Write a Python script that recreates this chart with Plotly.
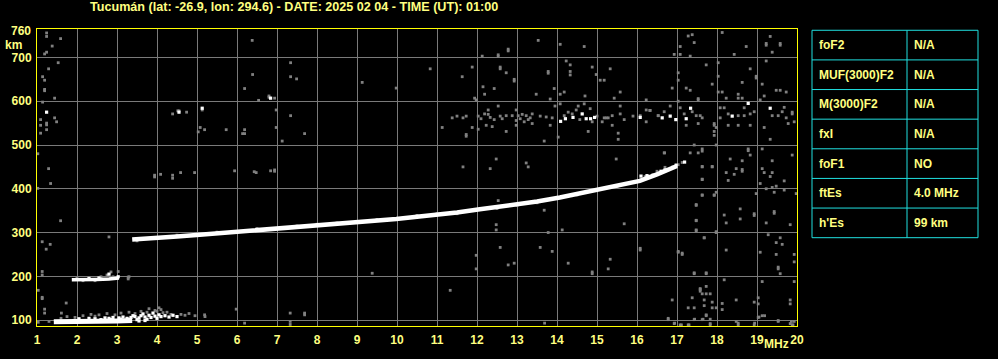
import plotly.graph_objects as go

# ---------------- data (frequency MHz, virtual height km) ----------------
title_text = "Tucumán (lat: -26.9, lon: 294.6) - DATE: 2025 02 04 - TIME (UT): 01:00"

x_ticks = list(range(1, 21))
y_ticks = [100, 200, 300, 400, 500, 600, 700]

# F-layer trace
f_trace_freq = [3.38, 3.6, 4.07, 4.5, 5.07, 5.5, 6.07, 6.5, 7.07, 7.5, 8.07, 8.5, 9.07, 9.5,
                9.98, 10.5, 11.07, 11.5, 12.07, 12.5, 13.07, 13.5, 14.07, 14.5, 15.07, 15.5,
                16.07, 16.5, 16.82, 17.0]
f_trace_km = [284, 285, 287, 291, 295, 298, 303, 306, 309.5, 312, 316, 319, 323, 327,
              331, 336, 341, 346, 353, 358, 364, 371, 380, 388, 398, 407,
              418, 433, 446, 452]

# sporadic E traces
es_low_freq = [1.42, 1.8, 2.2, 2.6, 3.0, 3.38]
es_low_km = [96, 96, 97, 97, 98, 99]
es_high_freq = [1.87, 2.2, 2.5, 2.8, 3.05]
es_high_km = [192, 192, 193, 194, 196]

# strong (white) echo points
echo_points = [
    (1.24, 575), (4.55, 575), (5.13, 584), (6.84, 607), (2.8, 205), (3.03, 199),
    (2.3, 195), (2.55, 196),
    (2.05, 103), (2.3, 104), (2.45, 103), (2.7, 105), (2.8, 104), (2.9, 106), (3.05, 105),
    (3.15, 107), (3.25, 104), (3.35, 106), (3.45, 108), (3.55, 105), (3.6, 110), (3.7, 107),
    (3.8, 111), (3.85, 106), (3.95, 109), (4.05, 112), (4.1, 108), (4.2, 110), (4.3, 107),
    (4.4, 111), (4.5, 108), (3.65, 114), (3.9, 116), (4.0, 104), (3.5, 101), (3.75, 102),
    (2.6, 101), (2.85, 101), (3.1, 102), (3.3, 102), (3.55, 98), (3.7, 99), (3.4, 110),
    (14.09, 554), (14.21, 560), (14.40, 563), (14.63, 571), (14.73, 560), (14.84, 560),
    (14.94, 563), (16.08, 563), (16.63, 562), (16.83, 566), (16.97, 558), (17.23, 560),
    (17.34, 584), (18.78, 595), (19.33, 584), (18.38, 566),
    (16.1, 429), (16.25, 430), (16.4, 431), (16.98, 454), (17.19, 461), (16.6, 440),
    (16.7, 443), (16.3, 428), (16.9, 449),
]

# weak (grey) echo / noise points
noise_points = [
    # left column
    (1.24, 756), (1.24, 748), (1.59, 743), (1.38, 726), (1.24, 712), (1.19, 708), (1.53, 688),
    (1.29, 674), (1.14, 656), (1.19, 648), (1.19, 627), (1.19, 624), (1.44, 607), (1.14, 598),
    (1.09, 558), (1.44, 562), (1.24, 550), (1.24, 546), (1.49, 553), (1.09, 545), (1.24, 535),
    (1.09, 527), (1.02, 480), (1.29, 446), (1.34, 412), (1.02, 401), (1.59, 327), (1.13, 279),
    (1.23, 262), (1.33, 273), (1.03, 168), (1.13, 149), (1.13, 152), (1.19, 125), (1.19, 116),
    (1.73, 139), (1.61, 116), (1.03, 95), (1.13, 211), (1.13, 203),
    # upper left / middle
    (6.38, 739), (6.39, 661), (7.34, 688), (7.34, 656), (7.49, 651), (6.19, 629), (6.54, 602),
    (6.80, 609), (6.80, 612), (6.94, 607), (9.13, 643), (6.98, 580), (7.34, 567), (6.98, 540),
    (7.69, 526), (7.13, 509), (4.55, 578), (4.39, 571), (4.74, 575), (5.08, 540), (5.19, 535),
    (5.03, 530), (5.73, 535), (6.19, 535), (6.14, 526), (6.19, 526), (3.94, 431), (3.94, 427),
    (4.09, 433), (4.39, 431), (4.39, 424), (4.59, 437), (4.94, 437), (5.94, 441), (6.43, 439),
    (6.48, 437), (6.84, 441), (6.94, 443), (6.94, 440), (5.13, 580), (4.52, 578),
    # upper middle band
    (9.98, 630), (10.83, 674), (11.13, 540), (11.38, 562), (11.63, 656), (11.65, 562),
    (11.73, 566), (11.73, 524), (11.73, 520), (11.88, 678), (11.88, 540), (11.94, 607),
    (11.98, 603), (12.03, 566), (12.03, 536), (12.13, 703), (12.15, 633), (12.19, 616),
    (12.19, 571), (12.23, 545), (12.28, 580), (12.28, 570), (12.38, 542), (12.43, 629),
    (12.43, 558), (12.53, 706), (12.53, 702), (12.53, 589), (12.58, 678), (12.58, 674),
    (12.58, 566), (12.73, 665), (12.73, 567), (12.73, 531), (12.78, 719), (12.78, 715),
    (12.88, 567), (12.93, 650), (12.93, 646), (12.98, 580), (12.98, 556), (12.98, 545),
    (13.03, 567), (13.08, 560), (13.13, 570), (13.18, 553), (13.23, 567), (13.28, 558),
    (13.33, 562), (13.38, 571), (13.38, 549), (13.48, 616), (13.53, 739), (13.68, 509),
    (13.73, 564), (13.78, 668), (13.78, 664), (13.83, 605), (13.83, 545), (13.88, 562),
    (13.93, 629), (13.95, 589), (14.03, 518), (14.08, 730), (14.08, 616), (14.08, 594),
    (14.18, 621), (14.18, 567), (14.23, 692), (14.33, 683), (14.33, 668), (14.33, 660),
    (14.38, 571), (14.48, 580), (14.53, 589), (14.57, 558), (14.68, 725), (14.68, 594),
    (14.70, 612), (14.78, 531), (14.83, 583), (14.88, 678), (14.88, 553), (14.98, 661),
    (15.08, 648), (15.13, 553), (15.18, 648), (15.18, 562), (15.23, 562), (15.28, 562),
    (15.33, 674), (15.38, 567), (15.38, 545), (15.43, 607), (15.53, 527), (15.53, 513),
    (15.58, 621), (15.58, 589), (15.58, 571), (15.68, 558), (16.08, 567), (16.23, 603),
    (16.23, 580), (16.23, 553), (16.33, 579), (16.53, 567), (12.33, 563), (12.63, 560),
    (13.58, 566), (14.28, 575), (15.0, 566), (15.9, 566), (11.5, 566), (12.1, 560),
    # right strip
    (17.38, 752), (17.28, 749), (17.43, 734), (17.08, 725), (16.93, 707), (17.08, 707),
    (17.33, 703), (18.13, 757), (18.43, 707), (18.73, 725), (19.23, 732), (19.58, 732),
    (19.23, 728), (19.58, 728), (19.33, 748), (19.38, 712), (19.23, 692), (17.73, 683),
    (18.03, 688), (18.83, 674), (17.03, 665), (17.03, 648), (18.03, 657), (17.88, 639),
    (18.63, 643), (18.98, 657), (18.98, 653), (19.13, 639), (19.58, 625), (16.88, 630),
    (17.23, 630), (17.33, 625), (18.03, 621), (18.13, 621), (18.23, 607), (18.53, 616),
    (18.53, 607), (18.63, 607), (19.18, 612), (19.48, 625), (19.73, 621), (19.08, 603),
    (17.53, 603), (17.53, 606), (17.03, 600), (16.32, 579), (16.53, 567), (16.68, 576),
    (16.83, 589), (17.08, 585), (17.18, 571), (17.38, 576), (17.48, 567), (17.58, 567),
    (17.63, 562), (17.53, 549), (17.23, 545), (17.93, 545), (17.93, 549), (18.08, 585),
    (18.18, 585), (18.08, 562), (18.28, 571), (18.28, 545), (18.53, 545), (18.68, 585),
    (18.83, 571), (18.83, 545), (18.93, 576), (18.68, 567), (18.53, 567), (19.18, 540),
    (19.38, 567), (19.53, 567), (19.63, 576), (19.68, 586), (19.73, 562), (19.88, 571),
    (19.88, 575), (19.78, 549), (19.93, 553), (17.93, 522), (17.98, 500), (17.43, 500),
    (17.53, 482), (17.63, 491), (17.33, 482), (16.68, 482), (18.78, 491), (18.78, 487),
    (18.83, 477), (19.13, 491), (19.33, 513), (19.38, 464), (19.88, 477), (18.33, 468),
    (18.63, 464), (18.63, 440), (18.63, 444), (18.48, 446), (18.23, 437), (18.43, 433),
    (17.63, 451), (17.88, 451), (17.63, 421), (18.28, 419), (19.13, 446), (19.18, 437),
    (19.38, 437), (19.33, 428), (19.08, 412), (19.48, 406), (19.23, 400), (19.38, 403),
    (19.68, 397), (19.68, 418), (17.93, 385), (17.63, 385), (17.98, 392), (18.98, 389),
    (19.43, 392), (19.98, 389), (17.48, 362), (18.58, 354), (18.93, 343), (18.93, 339),
    (19.43, 348), (19.43, 344), (18.18, 340), (17.48, 327), (18.58, 331), (18.23, 322),
    (19.23, 322), (19.83, 318), (17.48, 304), (17.98, 300), (19.28, 295), (19.58, 288),
    (19.48, 277), (19.63, 273), (17.68, 288), (17.03, 255), (17.13, 250), (18.23, 260),
    (19.08, 255), (19.48, 250), (19.93, 250), (19.93, 233), (19.53, 221), (19.53, 217),
    (19.58, 206), (17.43, 206), (17.73, 206), (18.18, 192), (19.13, 188), (19.93, 188),
    (17.58, 170), (17.58, 166), (17.63, 160), (17.73, 160), (17.83, 160), (17.68, 146),
    (17.38, 151), (16.88, 146), (17.88, 141), (18.13, 138), (18.48, 146), (18.93, 141),
    (19.03, 151), (19.83, 146), (17.28, 128), (17.43, 128), (17.68, 133), (17.88, 128),
    (17.98, 128), (18.13, 124), (19.03, 137), (19.83, 137), (17.73, 110), (16.78, 101),
    (16.93, 92), (17.08, 89), (17.28, 89), (17.43, 101), (17.63, 101), (17.83, 92),
    (18.48, 97), (18.53, 89), (18.93, 89), (19.03, 106), (19.13, 110), (19.53, 97),
    (19.83, 92), (19.88, 89), (19.93, 97), (17.93, 531), (17.98, 540), (17.63, 486),
    (17.13, 460), (17.03, 455),
    # middle region
    (11.65, 450), (12.33, 446), (12.48, 468), (13.23, 459), (13.28, 450), (15.48, 468),
    (16.69, 482), (12.53, 373), (13.68, 351), (12.48, 318), (12.48, 306), (13.78, 300),
    (14.13, 306), (15.68, 320), (12.58, 266), (13.58, 266), (13.88, 257), (11.98, 248),
    (11.98, 217), (12.78, 226), (12.93, 230), (14.28, 230), (14.88, 210), (14.88, 206),
    (15.28, 217), (15.33, 239), (16.08, 264), (16.08, 260), (17.03, 257), (17.13, 253),
    (11.33, 168), (17.43, 208), (17.73, 208), (17.58, 172), (17.73, 177), (17.48, 364),
    (17.48, 328), (17.48, 306), (17.68, 288), (17.63, 422), (17.63, 386), (17.63, 450),
    (17.88, 450), (17.93, 386), (17.98, 302),
    # lower region
    (2.80, 290), (5.19, 112), (5.98, 125), (6.19, 93), (7.33, 116), (7.33, 97), (7.33, 90),
    (7.69, 116), (7.69, 112), (9.38, 207), (3.30, 199), (13.69, 93), (16.78, 104),
    (16.94, 93), (17.11, 89), (17.30, 89), (17.44, 102), (17.65, 102), (17.73, 112),
    (17.83, 102), (17.83, 89), (18.53, 93), (18.94, 93), (19.05, 107), (19.19, 110),
    (19.53, 99), (19.86, 97), (19.90, 89),
    # E-region spread
    (1.6, 104), (1.75, 108), (2.15, 110), (2.35, 113), (2.55, 112), (2.75, 115), (2.95, 112),
    (3.1, 116), (3.3, 118), (3.45, 115), (3.6, 120), (3.75, 118), (3.95, 122), (4.0, 120),
    (4.15, 117), (4.25, 118), (4.35, 113), (4.6, 113), (4.7, 111), (4.8, 115), (4.95, 110),
    (5.2, 108), (2.0, 99), (1.3, 97), (3.8, 126), (4.05, 128), (4.1, 124), (1.95, 106),
    (2.45, 109), (2.0, 196), (2.6, 199), (2.75, 203), (3.03, 211), (3.28, 198), (2.9, 199),
    (2.15, 190), (2.45, 190), (2.85, 210), (3.28, 194),
    # F-trace fringe
    (4.5, 294), (5.5, 301), (6.5, 309), (7.5, 315), (8.5, 322), (9.5, 330), (10.5, 339),
    (11.5, 343), (12.5, 355), (13.5, 368), (14.5, 386), (15.5, 405), (16.2, 428),
    (16.7, 449), (16.5, 440), (13.0, 362), (11.0, 343), (8.0, 319), (6.0, 300), (3.5, 281),
]

table_labels = ["foF2", "MUF(3000)F2", "M(3000)F2", "fxI", "foF1", "ftEs", "h'Es"]
table_values = ["N/A", "N/A", "N/A", "N/A", "NO", "4.0 MHz", "99 km"]

# ---------------- layout constants ----------------
W, H = 998, 359
L, R, T, B = 37, 797, 29, 333
YEL = "#ffff80"
CYAN = "#20e0e0"
GRID = "#7a7a7a"
FONT = "Liberation Sans"


def px(x):
    return (x - L) / (R - L)


def py(y):
    return (B - y) / (B - T)


fig = go.Figure()

fig.add_trace(go.Scatter(
    x=[p[0] for p in noise_points], y=[p[1] for p in noise_points], mode="markers",
    marker=dict(symbol="square", size=2.8, color="#808080", line=dict(width=0)),
    hoverinfo="skip", showlegend=False))

fig.add_trace(go.Scatter(
    x=f_trace_freq, y=f_trace_km, mode="lines",
    line=dict(color="white", width=4.5), hoverinfo="skip", showlegend=False))
fig.add_trace(go.Scatter(
    x=es_low_freq, y=es_low_km, mode="lines",
    line=dict(color="white", width=5), hoverinfo="skip", showlegend=False))
fig.add_trace(go.Scatter(
    x=es_high_freq, y=es_high_km, mode="lines",
    line=dict(color="white", width=3.5), hoverinfo="skip", showlegend=False))
fig.add_trace(go.Scatter(
    x=[p[0] for p in echo_points], y=[p[1] for p in echo_points], mode="markers",
    marker=dict(symbol="square", size=3.2, color="white", line=dict(width=0)),
    hoverinfo="skip", showlegend=False))

tickfont = dict(family=FONT, size=12, color=YEL, weight="bold")

fig.update_xaxes(
    range=[1, 20], tickvals=x_ticks, ticktext=[str(v) for v in x_ticks],
    showgrid=True, gridcolor=GRID, gridwidth=1, zeroline=False,
    showline=True, linecolor="#ffff00", linewidth=1, mirror=True,
    ticks="", tickfont=tickfont, ticklabelstandoff=3)
fig.update_yaxes(
    range=[86.5, 765], tickvals=y_ticks, ticktext=[str(v) for v in y_ticks],
    showgrid=True, gridcolor=GRID, gridwidth=1, zeroline=False,
    showline=True, linecolor="#ffff00", linewidth=1, mirror=True,
    ticks="", tickfont=tickfont, ticklabelstandoff=2)

annotations = [
    dict(text=title_text, x=px(294), y=py(6.7), xanchor="center", yanchor="middle",
         font=dict(family=FONT, size=12.6, color=YEL, weight="bold")),
    dict(text="760", x=px(33), y=py(31.3), xanchor="right", yanchor="middle", font=tickfont),
    dict(text="km", x=px(13.5), y=py(45), xanchor="center", yanchor="middle", font=tickfont),
    dict(text="MHz", x=px(776), y=py(351.5), xanchor="center", yanchor="middle", font=tickfont),
]

shapes = []
tx0, tx1, tx2 = 812, 907, 978
row_y = [30.3 + 30.33 * i for i in range(len(table_labels) + 1)]
for yv in row_y:
    shapes.append(dict(type="line", xref="paper", yref="paper", x0=px(tx0), x1=px(tx2),
                       y0=py(yv), y1=py(yv), line=dict(color=CYAN, width=1)))
for xv in (tx0, tx1, tx2):
    shapes.append(dict(type="line", xref="paper", yref="paper", x0=px(xv), x1=px(xv),
                       y0=py(row_y[0]), y1=py(row_y[-1]), line=dict(color=CYAN, width=1)))
for i, (lab, val) in enumerate(zip(table_labels, table_values)):
    yc = (row_y[i] + row_y[i + 1]) / 2
    annotations.append(dict(text=lab, x=px(817), y=py(yc), xanchor="left", yanchor="middle",
                            font=tickfont))
    annotations.append(dict(text=val, x=px(912), y=py(yc), xanchor="left", yanchor="middle",
                            font=tickfont))

for a in annotations:
    a.update(xref="paper", yref="paper", showarrow=False)

fig.update_layout(
    width=W, height=H, margin=dict(l=L, r=W - R, t=T, b=H - B, pad=0),
    paper_bgcolor="black", plot_bgcolor="black",
    annotations=annotations, shapes=shapes, showlegend=False)

fig.write_html("out.html")
